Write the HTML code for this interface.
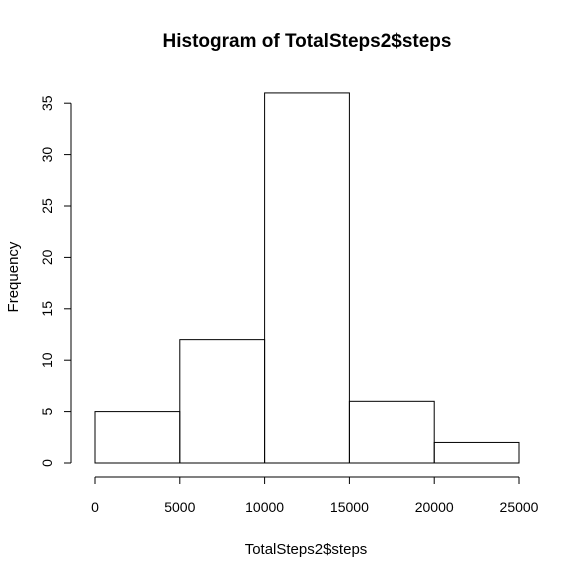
<!DOCTYPE html>
<html><head><meta charset="utf-8"><style>body{margin:0;background:#fff}svg{display:block}text{font-family:"Liberation Sans",Arial,sans-serif;fill:#000}</style></head>
<body>
<svg id="chart" width="576" height="576" viewBox="0 0 576 576" xmlns="http://www.w3.org/2000/svg">
<text x="307" y="47" text-anchor="middle" font-size="19" font-weight="bold">Histogram of TotalSteps2$steps</text>
<text x="306" y="554" text-anchor="middle" font-size="15">TotalSteps2$steps</text>
<text transform="translate(18,277) rotate(-90)" text-anchor="middle" font-size="15">Frequency</text>
<g id="bars"></g><g id="xaxis"></g><g id="yaxis"></g>
</svg>
<script>
const binEdges=[0,5000,10000,15000,20000,25000];
const counts=[5,12,36,6,2];
const xTicks=[0,5000,10000,15000,20000,25000];
const yTicks=[0,5,10,15,20,25,30,35];
const NS="http://www.w3.org/2000/svg";
const xs=v=>95+(v-0)*(519-95)/25000;
const ys=v=>463-v*10.28;
function mk(t,a,p){const e=document.createElementNS(NS,t);for(const k in a)e.setAttribute(k,a[k]);p.appendChild(e);return e;}
const bars=document.getElementById('bars');
counts.forEach((c,i)=>{const r=mk('rect',{x:xs(binEdges[i]),y:ys(c),width:xs(binEdges[i+1])-xs(binEdges[i]),height:ys(0)-ys(c),fill:'none',stroke:'#000','stroke-width':1},bars);

});
const xa=document.getElementById('xaxis');
mk('line',{x1:xs(xTicks[0]),x2:xs(xTicks[xTicks.length-1]),y1:477,y2:477,stroke:'#000'},xa);
xTicks.forEach(t=>{mk('line',{x1:xs(t),x2:xs(t),y1:477,y2:484,stroke:'#000'},xa);
const l=mk('text',{x:xs(t),y:512,'text-anchor':'middle','font-size':14},xa);l.textContent=t;

});
const ya=document.getElementById('yaxis');
mk('line',{x1:71,x2:71,y1:ys(yTicks[0]),y2:ys(yTicks[yTicks.length-1]),stroke:'#000'},ya);
yTicks.forEach(t=>{mk('line',{x1:64,x2:71,y1:ys(t),y2:ys(t),stroke:'#000'},ya);
const l=mk('text',{transform:`translate(52,${ys(t)}) rotate(-90)`,'text-anchor':'middle','font-size':14},ya);l.textContent=t;

});
</script>
</body></html>
